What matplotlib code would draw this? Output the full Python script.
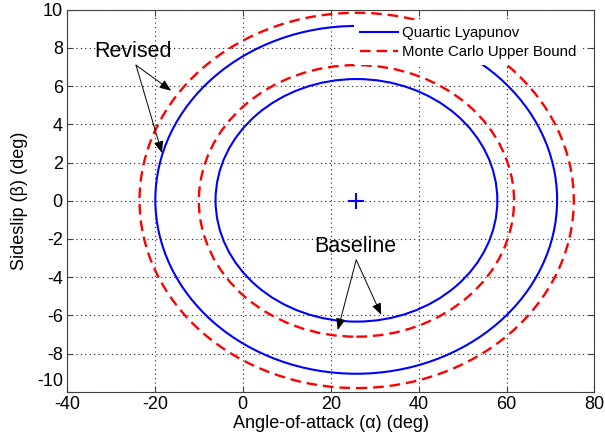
import matplotlib
matplotlib.use("Agg")
import matplotlib.pyplot as plt
import matplotlib.transforms as mtransforms
from matplotlib.patches import Ellipse
from matplotlib.lines import Line2D

plt.rcParams['font.family'] = ['Liberation Sans', 'DejaVu Sans']
plt.rcParams['axes.unicode_minus'] = False

# extents of the four region boundaries (deg)
# order: baseline lyapunov, baseline monte carlo, revised lyapunov, revised monte carlo
alpha_min = [-6.2, -10.0, -19.9, -23.5]
alpha_max = [57.9, 61.7, 71.5, 75.3]
beta_min = [-6.33, -7.12, -9.06, -9.81]
beta_max = [6.37, 7.10, 9.15, 9.84]
curve_kind = ['lyap', 'mc', 'lyap', 'mc']

# trim point
trim_alpha = 25.8
trim_beta = 0.0

# annotations
note_text = ['Revised', 'Baseline']
note_xy = [(-24.9, 7.5), (25.7, -2.67)]
arrow_from = [(-24.3, 7.1), (25.8, -3.1)]
arrow_to = [[(-16.3, 5.76), (-18.4, 2.5)], [(21.6, -6.77), (31.5, -5.98)]]

legend_labels = ['Quartic Lyapunov', 'Monte Carlo Upper Bound']

blue = '#0000ff'
red = '#ff0000'
styles = {
    'lyap': dict(edgecolor=blue, lw=1.5, linestyle='-'),
    'mc': dict(edgecolor=red, lw=1.7, linestyle=(0, (4.5, 2.5))),
}

fig = plt.figure(figsize=(6.05, 4.42), dpi=100)
ax = fig.add_axes([0.1107, 0.1138, 0.8719, 0.8642])

for i in range(len(alpha_min)):
    cx = (alpha_min[i] + alpha_max[i]) / 2
    cy = (beta_min[i] + beta_max[i]) / 2
    w = alpha_max[i] - alpha_min[i]
    h = beta_max[i] - beta_min[i]
    ax.add_patch(Ellipse((cx, cy), w, h, fill=False, zorder=2, **styles[curve_kind[i]]))

ax.plot(trim_alpha, trim_beta, '+', color=blue, markersize=12, mew=1.5, zorder=3)

for txt, pos, start, tips in zip(note_text, note_xy, arrow_from, arrow_to):
    ax.text(pos[0], pos[1], txt, fontsize=15.5, ha='center', va='baseline', zorder=4)
    for tip in tips:
        ax.annotate('', xy=tip, xytext=start,
                    arrowprops=dict(arrowstyle='-|>,head_length=0.5,head_width=0.2',
                                    color='k', lw=0.7, mutation_scale=14,
                                    shrinkA=0, shrinkB=0), zorder=4)

handles = [Line2D([], [], color=blue, lw=1.5),
           Line2D([], [], color=red, lw=1.7, linestyle=(0, (4.5, 2.5)))]
leg = ax.legend(handles, legend_labels, loc='upper right', bbox_to_anchor=(0.978, 0.972),
                borderaxespad=0, fontsize=10.8, frameon=True, fancybox=False,
                edgecolor='none', facecolor='white', framealpha=1,
                handlelength=2.5, handletextpad=0.3, borderpad=0.4, labelspacing=0.3)
leg.set_zorder(5)

ax.set_xlim(-40, 80)
ax.set_ylim(-10, 10)
ax.set_xticks(range(-40, 81, 20))
ax.set_yticks(range(-10, 11, 2))
ax.set_axisbelow(True)
ax.grid(True, linestyle=(0, (1, 3)), color='#222222', lw=0.8)
ax.tick_params(direction='in', top=True, right=True, length=4, labelsize=13, pad=3, color='#404040')
for s in ax.spines.values():
    s.set_color('#404040')

# the bottom y label sits a little higher, as in the original
lab = ax.yaxis.get_major_ticks()[0].label1
lab.set_transform(lab.get_transform() + mtransforms.ScaledTranslation(0, 8.5 / 72, fig.dpi_scale_trans))

ax.set_xlabel('Angle-of-attack (α) (deg)', fontsize=13)
ax.set_ylabel('Sideslip (β) (deg)', fontsize=13)
ax.xaxis.set_label_coords(0.5, -0.082)
ax.xaxis.label.set_va('center')
ax.yaxis.set_label_coords(-0.09, 0.5)
ax.yaxis.label.set_va('center')

fig.savefig('out.png', dpi=100)
